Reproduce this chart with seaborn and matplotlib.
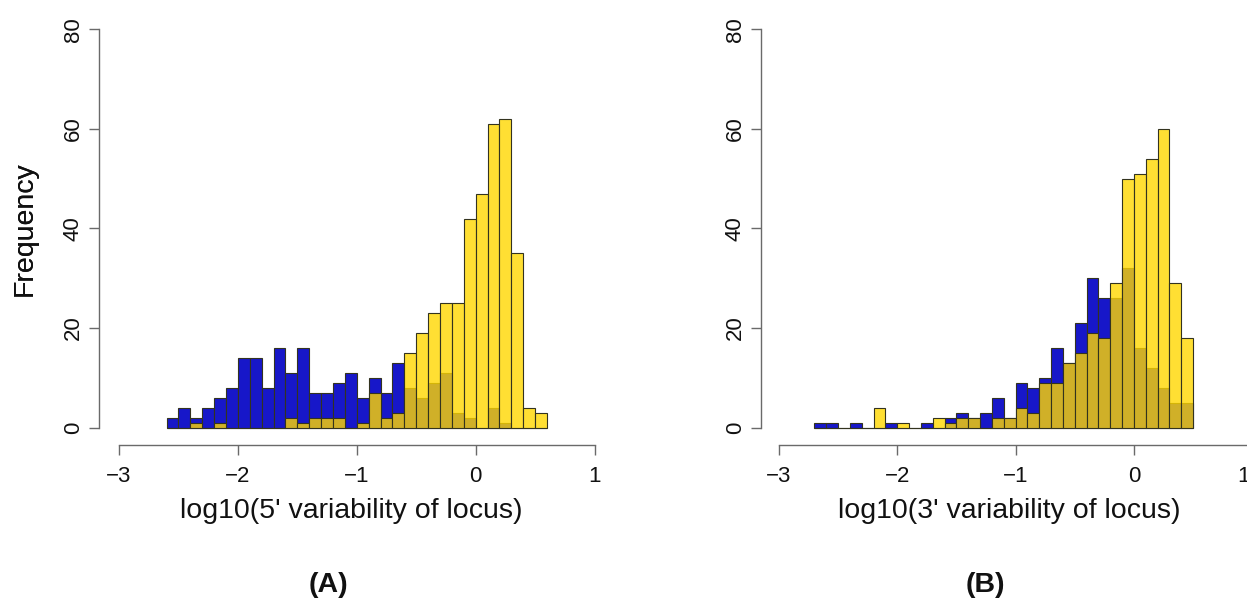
import numpy as np
import pandas as pd
import matplotlib
matplotlib.use("Agg")
import matplotlib.pyplot as plt
import matplotlib.transforms as mtransforms
import seaborn as sns

# ---------------- data (bin counts) ----------------
bin_width = 0.1

# Panel A: bins start at -2.6
bin_start_A = -2.6
blue_A = [2, 4, 2, 4, 6, 8, 14, 14, 8, 16, 11, 16, 7, 7, 9, 11,
          6, 10, 7, 13, 8, 6, 9, 11, 3, 2, 0, 4, 1, 0, 0, 0]
yellow_A = [0, 0, 1, 0, 1, 0, 0, 0, 0, 0, 2, 1, 2, 2, 2, 0,
            1, 7, 2, 3, 15, 19, 23, 25, 25, 42, 47, 61, 62, 35, 4, 3]

# Panel B: bins start at -2.7
bin_start_B = -2.7
blue_B = [1, 1, 0, 1, 0, 0, 1, 0, 0, 1, 0, 2, 3, 2, 3, 6,
          2, 9, 8, 10, 16, 13, 21, 30, 26, 26, 32, 16, 12, 8, 5, 5]
yellow_B = [0, 0, 0, 0, 0, 4, 0, 1, 0, 0, 2, 1, 2, 2, 0, 2,
            2, 4, 3, 9, 9, 13, 15, 19, 18, 29, 50, 51, 54, 60, 29, 18]

xlabel_A = "log10(5' variability of locus)"
xlabel_B = "log10(3' variability of locus)"
ylabel = "Frequency"
panel_A = "(A)"
panel_B = "(B)"
yticks = [0, 20, 40, 60, 80]
xticks = [-3, -2, -1, 0, 1]
xticklabels = ["\u22123", "\u22122", "\u22121", "0", "1"]

BLUE = "#1717c9"
YELLOW = "#ffd700"
EDGE = "#33331f"
AXCOL = "#6a6a6a"
TXT = "#111111"
TICK_FS = 16
LAB_FS = 20.5

sns.set_theme(style="white")
plt.rcParams["font.family"] = ["Liberation Sans", "DejaVu Sans"]

W, H = 1247, 601
fig = plt.figure(figsize=(W / 100, H / 100), dpi=100)

ax_bottom_px = 445.0
ax_top_px = 29.5
zero_px = 427.5
px_per_count = (zero_px - ax_top_px) / 80.0
ymin = -(ax_bottom_px - zero_px) / px_per_count
axh = (ax_bottom_px - ax_top_px) / H


def make_df(start, blue, yellow):
    n = len(blue)
    centers = np.round(start + bin_width * (np.arange(n) + 0.5), 3)
    edges = [float(v) for v in np.round(start + bin_width * np.arange(n + 1), 3)]
    df = pd.DataFrame({"x": centers, "blue": blue, "yellow": yellow})
    return df, edges


def draw(ax, start, blue, yellow, xlabel, left_px, px_per_unit, minus3_px, width_px,
         label_x_frac):
    df, edges = make_df(start, blue, yellow)
    sns.histplot(data=df, x="x", weights="blue", bins=edges, ax=ax,
                 color=BLUE, alpha=1.0, edgecolor=EDGE, linewidth=0.8)
    sns.histplot(data=df, x="x", weights="yellow", bins=edges, ax=ax,
                 color=YELLOW, alpha=0.8, edgecolor=EDGE, linewidth=0.8)
    xl = -3 - (minus3_px - left_px) / px_per_unit
    ax.set_xlim(xl, xl + width_px / px_per_unit)
    ax.set_ylim(ymin, 80)
    for s in ["top", "right"]:
        ax.spines[s].set_visible(False)
    for s in ["left", "bottom"]:
        ax.spines[s].set_color(AXCOL)
        ax.spines[s].set_linewidth(1.0)
    ax.spines["left"].set_bounds(0, 80)
    ax.spines["bottom"].set_bounds(-3, 1)
    ax.set_xticks(xticks)
    ax.set_xticklabels(xticklabels)
    ax.set_yticks(yticks)
    ax.set_yticklabels([str(v) for v in yticks], rotation=90, va="center")
    ax.tick_params(axis="both", direction="out", length=7, width=1.0,
                   color=AXCOL, labelsize=TICK_FS, labelcolor=TXT,
                   bottom=True, left=True)
    ax.tick_params(axis="x", pad=8)
    ax.tick_params(axis="y", pad=4)
    ax.set_xlabel(xlabel, fontsize=LAB_FS, color=TXT, va="center")
    ax.xaxis.set_label_coords(label_x_frac, (ax_bottom_px - 511) / (ax_bottom_px - ax_top_px))
    ax.set_ylabel(ylabel, fontsize=LAB_FS, color=TXT, va="center")
    ax.yaxis.set_label_coords((25 - left_px) / width_px, (40 - ymin) / (80 - ymin))
    ax.grid(False)


# Panel A
leftA, widthA = 99.0, 501.0
axA = fig.add_axes([leftA / W, (H - ax_bottom_px) / H, widthA / W, axh])
draw(axA, bin_start_A, blue_A, yellow_A, xlabel_A, leftA, 118.9, 119.0, widthA,
     (351.7 - leftA) / widthA)

# Panel B
leftB, widthB = 761.0, 520.0
axB = fig.add_axes([leftB / W, (H - ax_bottom_px) / H, widthB / W, axh])
draw(axB, bin_start_B, blue_B, yellow_B, xlabel_B, leftB, 118.3, 779.0, widthB,
     (1009.7 - leftB) / widthB)
# the last tick label sits at the very right edge of the figure: keep it inside
last = axB.get_xticklabels()[-1]
last.set_transform(last.get_transform() +
                   mtransforms.ScaledTranslation(-9 / 100, 0, fig.dpi_scale_trans))

fig.text(328 / W, 1 - 585 / H, panel_A, ha="center", va="center",
         fontsize=LAB_FS, fontweight="bold", color=TXT)
fig.text(985 / W, 1 - 585 / H, panel_B, ha="center", va="center",
         fontsize=LAB_FS, fontweight="bold", color=TXT)

fig.savefig("out.png", dpi=100, facecolor="white")
